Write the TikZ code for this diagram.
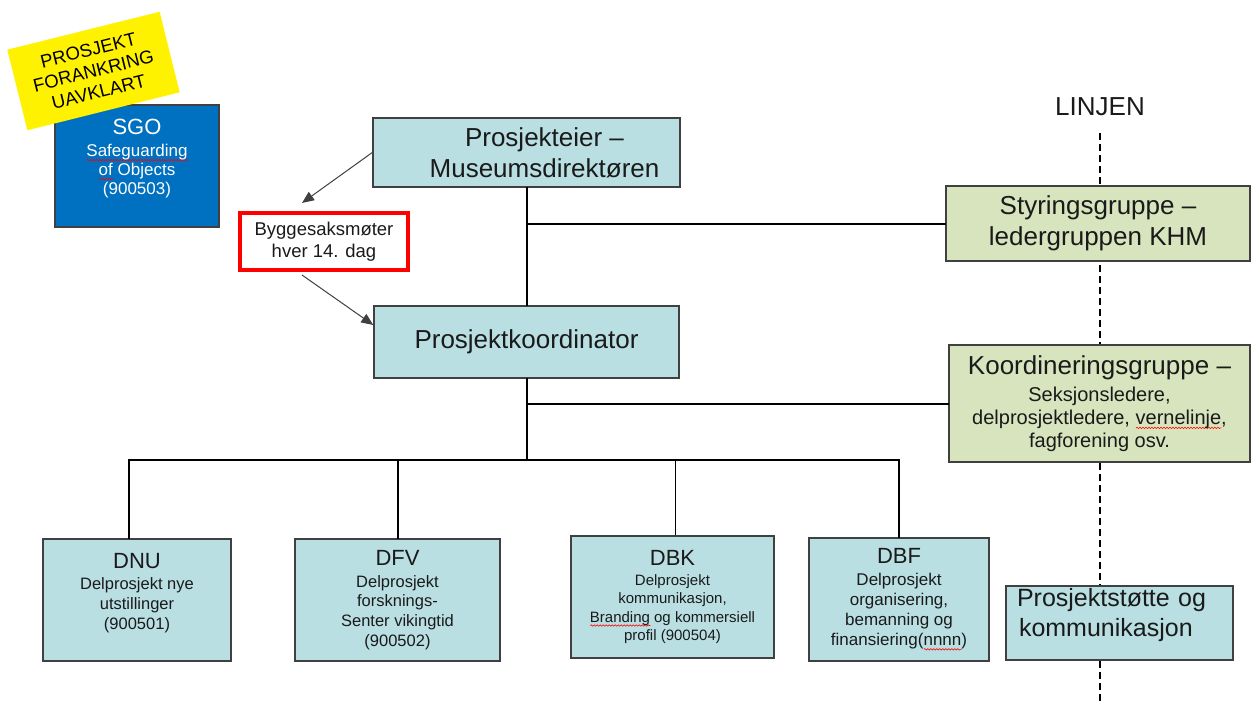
\documentclass[tikz,border=0pt]{standalone}
\usepackage{fontspec}
\setmainfont{Liberation Sans}
\usetikzlibrary{arrows.meta,decorations.pathmorphing}

\definecolor{boxteal}{RGB}{185,223,227}
\definecolor{boxgreen}{RGB}{215,228,189}
\definecolor{sgoblue}{RGB}{0,112,192}
\definecolor{boxline}{RGB}{64,64,64}
\definecolor{txt}{RGB}{26,26,26}

% red wavy spell-check mark under a word
\newlength\spellwd
\newcommand\spellmark[1]{\settowidth\spellwd{#1}\rlap{\tikz[baseline=0pt]\draw[red,line width=0.6pt,fill=none,
    decorate,decoration={snake,amplitude=0.7pt,segment length=3pt}] (0pt,-3.5pt) -- (\spellwd,-3.5pt);}#1}

\begin{document}
\begin{tikzpicture}[x=1pt,y=-1pt,
  box/.style={draw=boxline,line width=1.5pt,inner sep=0pt,align=center,text=txt},
  big/.style={font=\fontsize{26}{31}\selectfont},
  sub/.style={font=\fontsize{16.5}{19.7}\selectfont},
  link/.style={line width=2pt,black,line cap=rect},
  arr/.style={line width=1pt,boxline,-{Triangle[length=12pt,width=10pt]}}]

\useasboundingbox (0,0) rectangle (1252,702);

% LINJEN
\coordinate (linjetop) at (1100,133);
\coordinate (linjebot) at (1100,702);
\node[big,text=txt] (linjen) at (1100,107) {LINJEN};
\draw[line width=2pt,dash pattern=on 7pt off 4pt] (linjetop) -- (linjebot);

% SGO and the yellow note on top of it
\node[box,fill=sgoblue,text=white,font=\fontsize{17}{19}\selectfont,
  minimum width=164pt,minimum height=122pt] (sgo) at (137,166)
  {{\fontsize{22}{22}\selectfont SGO}\\[3pt]\spellmark{Safeguarding}\\\spellmark{of} Objects\\(900503)\\[-1pt]\mbox{}};
\node[fill=yellow,rotate=14,minimum width=157pt,minimum height=83pt,inner sep=0pt,
  align=center,font=\fontsize{18.5}{21.5}\selectfont] (uavklart) at (93.5,71)
  {PROSJEKT\\FORANKRING\\UAVKLART};

% top of the project
\node[box,fill=boxteal,big,minimum width=307pt,minimum height=69pt] (eier) at (526.5,152.5)
  {\hspace*{36pt}Prosjekteier –\\\hspace*{36pt}Museumsdirektøren};
\node[box,draw=red,line width=4pt,fill=white,minimum width=168pt,minimum height=57pt,
  font=\fontsize{18.5}{22.5}\selectfont] (bygg) at (324,241.5) {Byggesaksmøter\\hver 14. dag};
\node[box,fill=boxteal,big,minimum width=305pt,minimum height=72pt] (koord) at (526.5,342)
  {Prosjektkoordinator};

% groups on the right
\node[box,fill=boxgreen,big,minimum width=304pt,minimum height=75pt] (styring) at (1098,223.5)
  {Styringsgruppe –\\ledergruppen KHM};
\node[box,fill=boxgreen,font=\fontsize{20}{23}\selectfont,minimum width=301pt,minimum height=117pt]
  (koordgr) at (1099.5,403.5)
  {{\fontsize{26}{26}\selectfont Koordineringsgruppe –}\\[4pt]Seksjonsledere,\\delprosjektledere, \spellmark{vernelinje},\\fagforening osv.};
\node[box,fill=boxteal,font=\fontsize{25}{30}\selectfont,minimum width=227pt,minimum height=74pt,
  text width=205pt,align=left] (stotte) at (1119.5,623)
  {Prosjektstøtte og\\\hspace*{2pt}kommunikasjon\\[-9pt]\mbox{}};

% sub projects
\node[box,fill=boxteal,sub,minimum width=188pt,minimum height=122pt] (dnu) at (137,600)
  {{\fontsize{22}{22}\selectfont DNU}\\[2pt]Delprosjekt nye\\utstillinger\\(900501)\\[-2pt]\mbox{}};
\node[box,fill=boxteal,sub,minimum width=205pt,minimum height=122pt] (dfv) at (397.5,600)
  {{\fontsize{22}{22}\selectfont DFV}\\[2pt]Delprosjekt\\forsknings-\\Senter vikingtid\\(900502)};
\node[box,fill=boxteal,font=\fontsize{15}{18.5}\selectfont,minimum width=203pt,minimum height=122pt]
  (dbk) at (672.5,597)
  {{\fontsize{22}{22}\selectfont DBK}\\[1pt]Delprosjekt\\kommunikasjon,\\\spellmark{Branding} og kommersiell\\profil (900504)};
\node[box,fill=boxteal,font=\fontsize{17}{20}\selectfont,minimum width=180pt,minimum height=123pt]
  (dbf) at (899,599.5)
  {{\fontsize{22}{22}\selectfont DBF}\\[2pt]Delprosjekt\\organisering,\\bemanning og\\finansiering(\spellmark{nnnn})};

% lines
\coordinate (bus) at (526.5,460);
\draw[link] (eier.south) -- (koord.north);
\draw[link] (styring.west -| eier.south) -- (styring.west);
\draw[link] (koord.south) -- (bus);
\draw[link] (koordgr.west -| koord.south) -- (koordgr.west);
\draw[link] ([xshift=-8pt]dnu.north |- bus) -- (dbf.north |- bus);
\draw[link] ([xshift=-8pt]dnu.north |- bus) -- ([xshift=-8pt]dnu.north);
\foreach \d in {dfv,dbf}
  \draw[link] (\d.north |- bus) -- (\d.north);
\draw[line width=1pt] ([xshift=3pt]dbk.north |- bus) -- ([xshift=3pt]dbk.north);

\draw[arr] (eier.west) -- ([xshift=-22pt,yshift=8pt]bygg.north);
\draw[arr] ([xshift=-22pt,yshift=-3pt]bygg.south) -- ([yshift=17pt]koord.west);

\end{tikzpicture}
\end{document}
